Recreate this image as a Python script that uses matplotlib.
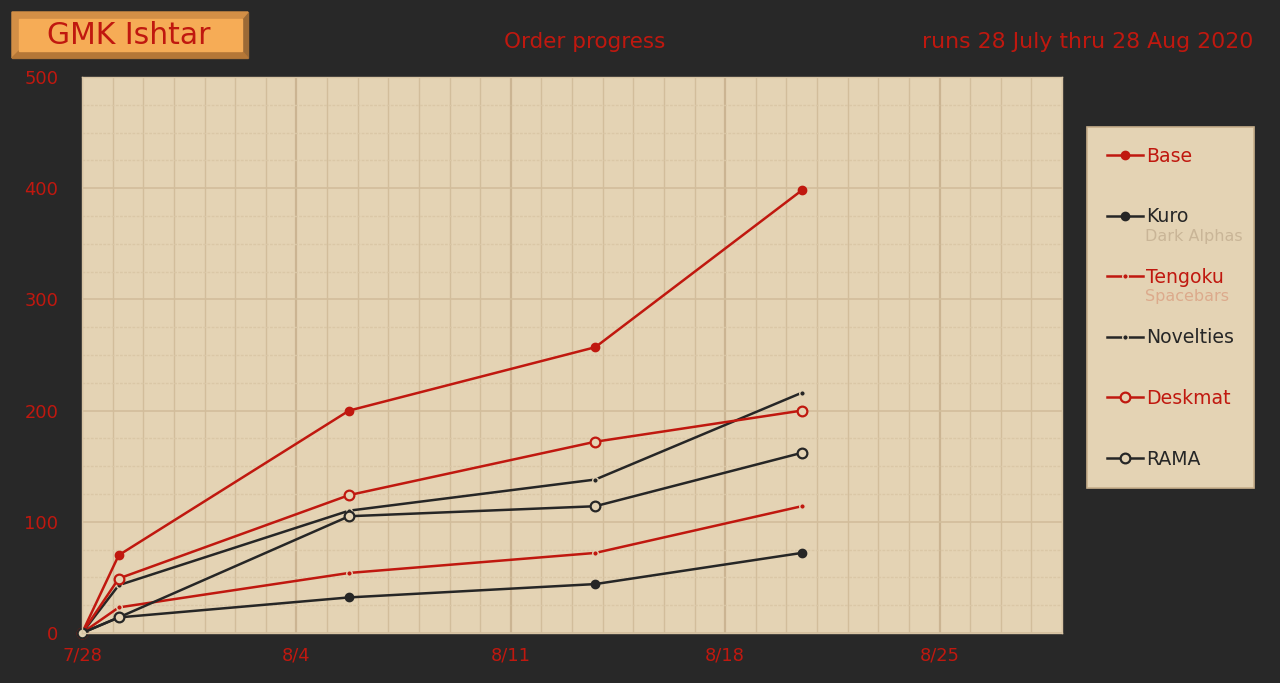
import matplotlib
matplotlib.use("Agg")
import matplotlib.pyplot as plt
from matplotlib.patches import Rectangle, Polygon
from matplotlib.ticker import MultipleLocator, FixedLocator, FixedFormatter

# ---- data ----
days = [0, 1.2, 8.72, 16.76, 23.5]          # days since 7/28/2020
base = [0, 70, 200, 257, 398]
kuro = [0, 14, 32, 44, 72]
tengoku = [0, 23, 54, 72, 114]
novelties = [0, 43, 110, 138, 216]
deskmat = [0, 49, 124, 172, 200]
rama = [0, 14, 105, 114, 162]
tick_days = [0, 7, 14, 21, 28]
tick_labels = ['7/28', '8/4', '8/11', '8/18', '8/25']

FIG_BG = '#282828'
AX_BG = '#e4d3b4'
RED = '#c0180f'
BLACK = '#262626'
GRID = '#d2bd9b'
plt.rcParams['font.family'] = ['DejaVu Sans']

fig = plt.figure(figsize=(12.8, 6.83), dpi=100, facecolor=FIG_BG)
W, H = 1280, 683
ax = fig.add_axes([82 / W, 1 - 633 / H, (1062 - 82) / W, (633 - 77) / H])
ax.set_facecolor(AX_BG)
ax.set_xlim(0, 32)
ax.set_ylim(0, 500)

ax.xaxis.set_major_locator(FixedLocator(tick_days))
ax.xaxis.set_major_formatter(FixedFormatter(tick_labels))
ax.xaxis.set_minor_locator(MultipleLocator(1))
ax.yaxis.set_major_locator(MultipleLocator(100))
ax.yaxis.set_minor_locator(MultipleLocator(25))
ax.grid(which='major', axis='x', color='#cbb492', lw=1.6)
ax.grid(which='minor', axis='x', color=GRID, lw=1.0)
ax.grid(which='major', axis='y', color=GRID, lw=1.2)
ax.grid(which='minor', axis='y', color='#dac7a6', lw=1.0, ls=(0, (2, 1)))
ax.set_axisbelow(True)
ax.tick_params(which='both', length=0, colors=RED, labelsize=12.9)
ax.tick_params(axis='x', pad=10)
ax.tick_params(axis='y', pad=17)
for s in ax.spines.values():
    s.set_color('#d8c4a4')
    s.set_linewidth(1)

lw = 1.8
series = [
    ('Base', base, RED, dict(marker='o', ms=6, mfc=RED, mec=RED)),
    ('Kuro', kuro, BLACK, dict(marker='o', ms=6, mfc=BLACK, mec=BLACK)),
    ('Tengoku', tengoku, RED, dict(marker='o', ms=4, mfc=RED, mec=AX_BG, mew=1)),
    ('Novelties', novelties, BLACK, dict(marker='o', ms=4, mfc=BLACK, mec=AX_BG, mew=1)),
    ('Deskmat', deskmat, RED, dict(marker='o', ms=7, mfc=AX_BG, mec=RED, mew=1.6)),
    ('RAMA', rama, BLACK, dict(marker='o', ms=7, mfc=AX_BG, mec=BLACK, mew=1.6)),
]
handles = []
for name, vals, c, mk in series:
    h, = ax.plot(days, vals, color=c, lw=lw, label=name, clip_on=False, **mk)
    handles.append(h)

leg = fig.legend(handles=handles, loc='upper left',
                 bbox_to_anchor=(1087 / W, 1 - 127 / H), frameon=True,
                 fontsize=13.6, handlelength=1.9, handletextpad=0.2,
                 labelspacing=2.2, borderpad=1.05, borderaxespad=0,
                 fancybox=False, facecolor=AX_BG, edgecolor='#c8b08c',
                 framealpha=1)
leg.get_frame().set_linewidth(1.2)
for t, (_, _, c, _) in zip(leg.get_texts(), series):
    t.set_color(c)

# sub-labels
fig.text(1145 / W, 1 - 236 / H, 'Dark Alphas', color='#c9b597', fontsize=11.5,
         va='center', ha='left', zorder=10)
fig.text(1145 / W, 1 - 297 / H, 'Spacebars', color='#dcaa8c', fontsize=11.5,
         va='center', ha='left', zorder=10)

# title badge
fig.patches.append(Rectangle((12 / W, 1 - 58 / H), 236 / W, 46 / H,
                             transform=fig.transFigure, color='#9c6a36', zorder=1))
fig.patches.append(Polygon([(12 / W, 1 - 12 / H), (248 / W, 1 - 12 / H),
                            (242 / W, 1 - 19 / H), (19 / W, 1 - 19 / H),
                            (19 / W, 1 - 51 / H), (12 / W, 1 - 58 / H)],
                           closed=True, transform=fig.transFigure,
                           color='#d38f46', zorder=1.5))
fig.patches.append(Polygon([(12 / W, 1 - 58 / H), (248 / W, 1 - 58 / H),
                            (242 / W, 1 - 51 / H), (19 / W, 1 - 51 / H)],
                           closed=True, transform=fig.transFigure,
                           color='#b57737', zorder=1.6))
fig.patches.append(Rectangle((19 / W, 1 - 51 / H), 223 / W, 32 / H,
                             transform=fig.transFigure, color='#f6ac56', zorder=2))
fig.text(129 / W, 1 - 36 / H, 'GMK Ishtar', color=RED, fontsize=21.5,
         ha='center', va='center', zorder=3)

fig.text(585 / W, 1 - 42 / H, 'Order progress', color=RED, fontsize=15.5,
         ha='center', va='center')
fig.text(1253 / W, 1 - 42 / H, 'runs 28 July thru 28 Aug 2020', color=RED,
         fontsize=15.8, ha='right', va='center')

fig.savefig('out.png', dpi=100, facecolor=FIG_BG)
